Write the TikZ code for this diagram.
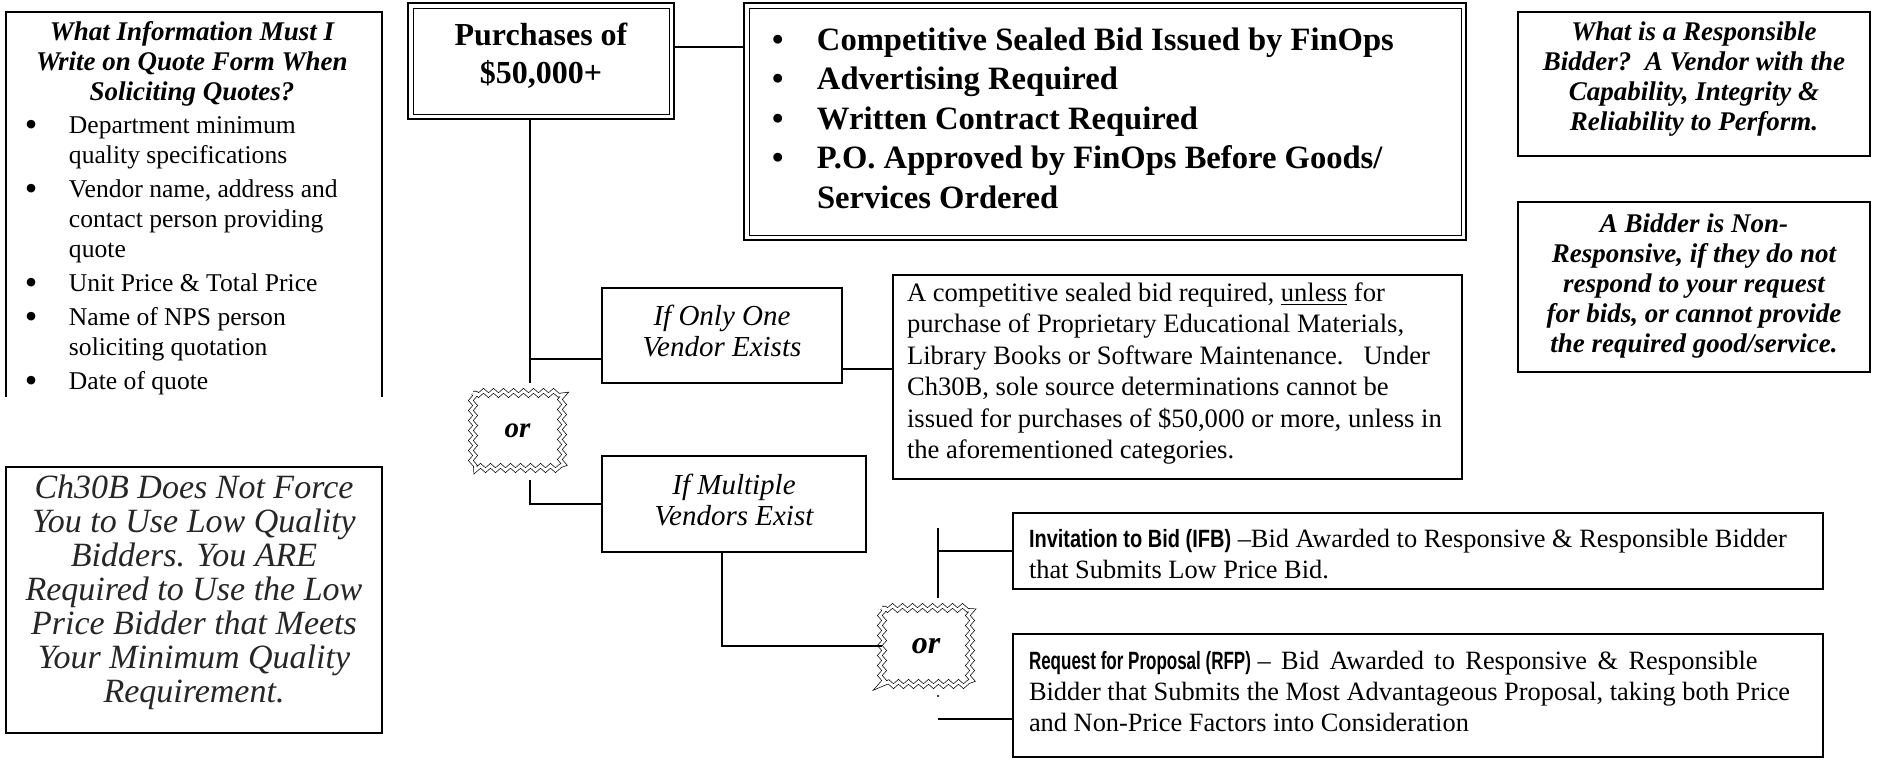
\documentclass[tikz,border=0pt]{standalone}
\usepackage{fontspec}
\setmainfont{Liberation Serif}
\setsansfont{Liberation Sans}
\usepackage{graphicx}
\usetikzlibrary{decorations.pathmorphing,calc}
\newcommand{\fsz}[2]{\fontsize{#1}{#2}\selectfont}
\newcommand{\condlabel}[2]{\scalebox{#1}[1]{\sffamily\bfseries\fontsize{12.5}{15}\selectfont #2}}
\newcommand{\bigbul}{\raisebox{-1.6pt}{\scalebox{1.4}{\textbullet}}}
\begin{document}
\begin{tikzpicture}[x=0.5pt,y=-0.5pt,
  conn/.style={line width=0.8pt},
  sbox/.style={draw, line width=1.1pt, fill=white, inner sep=0pt, outer sep=0pt},
  dbox/.style={draw, line width=1.3pt, fill=white, inner sep=0pt, outer sep=0pt},
  innerframe/.style={line width=0.5pt},
  orbox/.style={draw, line width=0.35pt, double distance=1.4pt, decorate,
    decoration={zigzag, segment length=5pt, amplitude=1.1pt}},
  txt/.style={inner sep=0pt, outer sep=0pt},
  boldital/.style={font=\bfseries\itshape\fsz{13.5}{15}, align=center},
  vendorfont/.style={font=\itshape\fsz{14.5}{15.8}, align=center},
  bodyfont/.style={font=\fsz{13.3}{15.7}, align=left}
]
\useasboundingbox (0,0) rectangle (1881,760);

% ---------- left information box (open at the bottom)
\draw[line width=1.1pt] (6,397) -- (6,12) -- (382,12) -- (382,397);
\node[txt, boldital] (infotitle) at (192,64)
  {What Information Must I\\Write on Quote Form When\\Soliciting Quotes?};
\node[txt, anchor=north west, font=\fsz{12.8}{15}] (infolist) at (25,112)
  {\begin{tabular}{@{}p{22pt}@{}l@{}}
   \bigbul & Department minimum\\
           & quality specifications\\[2pt]
   \bigbul & Vendor name, address and\\
           & contact person providing\\
           & quote\\[2pt]
   \bigbul & Unit Price \& Total Price\\[2pt]
   \bigbul & Name of NPS person\\
           & soliciting quotation\\[2pt]
   \bigbul & Date of quote
   \end{tabular}};

% ---------- Ch30B box
\node[sbox, minimum width=188pt, minimum height=133pt] (ch) at (194,600) {};
\node[txt, font=\itshape\fsz{17}{17}, align=center, text=black!85] (chtext) at (194,592)
  {Ch30B Does Not Force\\You to Use Low Quality\\Bidders. You ARE\\Required to Use the Low\\Price Bidder that Meets\\Your Minimum Quality\\Requirement.};

% ---------- Purchases box (double frame)
\node[dbox, minimum width=133pt, minimum height=58pt] (purch) at (541,61) {};
\draw[innerframe] ([shift={(5,5)}]purch.north west) rectangle ([shift={(-5,-5)}]purch.south east);
\node[txt, font=\bfseries\fsz{16}{19}, align=center] (purchtext) at (541,56) {Purchases of\\\$50,000+};

% ---------- requirements box (double frame)
\node[dbox, minimum width=361pt, minimum height=118.5pt] (bidbox) at (1105,121.5) {};
\draw[innerframe] ([shift={(5,5)}]bidbox.north west) rectangle ([shift={(-5,-5)}]bidbox.south east);
\node[txt, anchor=west, font=\bfseries\fsz{16.3}{19.7}] (bidtext) at (772,121.5)
  {\begin{tabular}{@{}p{22.5pt}@{}l@{}}
   \textbullet & Competitive Sealed Bid Issued by FinOps\\
   \textbullet & Advertising Required\\
   \textbullet & Written Contract Required\\
   \textbullet & P.O. Approved by FinOps Before Goods/\\
               & Services Ordered
   \end{tabular}};

% ---------- right-hand definition boxes
\node[sbox, minimum width=176pt, minimum height=72pt] (resp) at (1694,84) {};
\node[txt, boldital] (resptext) at (1694,79)
  {What is a Responsible\\Bidder?\ \ A Vendor with the\\Capability, Integrity \&\\Reliability to Perform.};
\node[sbox, minimum width=176pt, minimum height=85pt] (nonresp) at (1694,287) {};
\node[txt, boldital] (nonresptext) at (1694,286)
  {A Bidder is Non-\\Responsive, if they do not\\respond to your request\\for bids, or cannot provide\\the required good/service.};

% ---------- vendor branches
\node[sbox, minimum width=120pt, minimum height=47.5pt] (only) at (722,335.5) {};
\node[txt, vendorfont] (onlytext) at (722,331) {If Only One\\Vendor Exists};
\node[sbox, minimum width=132pt, minimum height=48pt] (multi) at (734,504) {};
\node[txt, vendorfont] (multitext) at (734,500) {If Multiple\\Vendors Exist};

\node[sbox, minimum width=284.5pt, minimum height=102pt] (details) at (1177.5,377) {};
\node[txt, anchor=west, bodyfont] (detailstext) at (907,373.5)
  {A competitive sealed bid required, \underline{unless} for\\
   purchase of Proprietary Educational Materials,\\
   Library Books or Software Maintenance.\ \ \ Under\\
   Ch30B, sole source determinations cannot be\\
   issued for purchases of \$50,000 or more, unless in\\
   the aforementioned categories.};

% ---------- IFB / RFP
\node[sbox, minimum width=405pt, minimum height=38pt] (ifb) at (1418,551) {};
\node[txt, anchor=west, font=\fsz{13.2}{15.5}, align=left] (ifbtext) at (1029,554)
  {\condlabel{0.8}{Invitation to Bid (IFB)} --Bid Awarded to Responsive \& Responsible Bidder\\
   that Submits Low Price Bid.};
\node[sbox, minimum width=405pt, minimum height=61.5pt] (rfp) at (1418,695.5) {};
\node[txt, anchor=west, font=\fsz{13.2}{15.5}, align=left] (rfptext) at (1029,691)
  {\condlabel{0.68}{Request for Proposal (RFP)} \makebox[250pt][s]{-- Bid Awarded to Responsive \& Responsible}\\
   Bidder that Submits the Most Advantageous Proposal, taking both Price\\
   and Non-Price Factors into Consideration};

% ---------- "or" stamps
\node[txt, minimum width=44.5pt, minimum height=37.5pt, font=\bfseries\itshape\fsz{14.5}{15}] (or1) at (517.5,430.5) {or};
\draw[orbox] (or1.north west) rectangle (or1.south east);
\node[txt, minimum width=44pt, minimum height=38pt, font=\bfseries\itshape\fsz{16}{16}] (or2) at (926,646) {or};
\draw[orbox] (or2.north west) rectangle (or2.south east);

% ---------- connectors
\coordinate (pb) at (674,47);
\draw[conn] (pb -| purch.east) -- (pb -| bidbox.west);

\path (purch.south) ++(-11,0) coordinate (v0);
\coordinate (v1) at (530,383);
\draw[conn] (v0) -- (v1);
\coordinate (jonly) at (530,359);
\draw[conn] (jonly) -- (jonly -| only.west);
\coordinate (v2) at (530,480);
\draw[conn] (v2) |- (multi.west);

\coordinate (od) at (842,369);
\draw[conn] (od -| only.east) -- (od -| details.west);

\path (multi.south) ++(-12,0) coordinate (m0);
\draw[conn] (m0) |- (or2.west);

\coordinate (i0) at (938,528);
\coordinate (i1) at (938,598);
\draw[conn] (i0) -- (i1);
\draw[conn] (i0 |- ifb.west) -- (ifb.west);
\coordinate (r0) at (938,719);
\draw[conn] (r0) -- (r0 -| rfp.west);
\fill (938,696) circle (0.6pt);
\end{tikzpicture}
\end{document}
